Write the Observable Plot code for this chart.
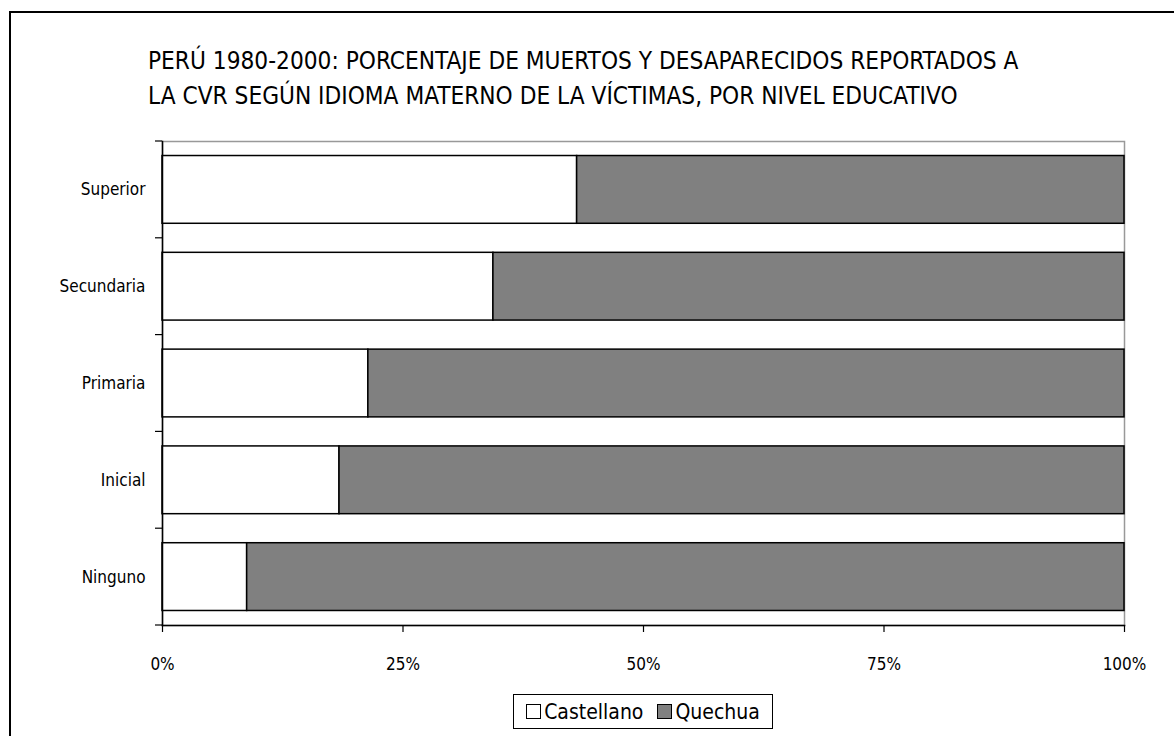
<!DOCTYPE html>
<html>
<head>
<meta charset="utf-8">
<script src="https://cdn.jsdelivr.net/npm/d3@7"></script>
<script src="https://cdn.jsdelivr.net/npm/@observablehq/plot@0.6"></script>
<style>
  html, body { margin: 0; padding: 0; background: #fff; overflow: hidden; }
  body { width: 1174px; height: 736px; position: relative; font-family: "DejaVu Sans Condensed", "DejaVu Sans", sans-serif; font-stretch: condensed; color: #000; }
  #frame { position: absolute; left: 9px; top: 11px; width: 1300px; height: 900px; border: 2px solid #000; box-sizing: border-box; }
  #title { position: absolute; left: 148px; top: 44px; font-size: 24.2px; line-height: 35px; white-space: nowrap; }
  #chart { position: absolute; left: 0; top: 109px; }
  #legend { position: absolute; left: 513px; top: 694px; width: 260px; height: 35px; box-sizing: border-box; border: 1px solid #000; display: flex; align-items: center; justify-content: center; font-size: 21px; }
  .sw { display: inline-block; width: 15px; height: 15px; border: 1px solid #000; box-sizing: border-box; margin-right: 3px; }
  .item { display: flex; align-items: center; margin: 0 7px; }
</style>
</head>
<body>
<div id="frame"></div>
<div id="title">PERÚ 1980-2000: PORCENTAJE DE MUERTOS Y DESAPARECIDOS REPORTADOS A<br>LA CVR SEGÚN IDIOMA MATERNO DE LA VÍCTIMAS, POR NIVEL EDUCATIVO</div>
<div id="chart"></div>
<div id="legend"></div>
<script>
const categories = ["Superior", "Secundaria", "Primaria", "Inicial", "Ninguno"];
const castellano = [43.1, 34.4, 21.4, 18.4, 8.8];
const quechua = [56.9, 65.6, 78.6, 81.6, 91.2];
const series = ["Castellano", "Quechua"];
const seriesColors = ["#ffffff", "#808080"];
const xTicks = [0, 25, 50, 75, 100];

const data = categories.flatMap((c, i) => [
  {cat: c, idioma: series[0], v: castellano[i]},
  {cat: c, idioma: series[1], v: quechua[i]}
]);

function boundaryTicks(index, scales) {
  const y = scales.y;
  const x = scales.x;
  const g = d3.create("svg:g");
  const y0 = y(categories[0]);
  const step = y(categories[1]) - y0;
  const bw = y.bandwidth ? y.bandwidth() : step * 0.7;
  const half = (step - bw) / 2;
  const x0 = x(0);
  const bounds = categories.map(c => y(c) - half);
  bounds.push(y(categories[categories.length - 1]) + bw + half);
  for (const b of bounds) {
    g.append("line").attr("x1", x0 - 7).attr("x2", x0).attr("y1", b).attr("y2", b)
      .attr("stroke", "#000").attr("stroke-width", 1.2);
  }
  return g.node();
}

const chart = Plot.plot({
  width: 1174,
  height: 571,
  marginLeft: 162,
  marginRight: 50,
  marginTop: 32,
  marginBottom: 55,
  style: {fontFamily: '"DejaVu Sans Condensed", "DejaVu Sans", sans-serif', fontSize: "17px", color: "#000", background: "transparent", fontStretch: "condensed"},
  x: {domain: [0, 100], label: null},
  y: {domain: categories, paddingInner: 0.3, paddingOuter: 0.15, round: false, label: null},
  color: {domain: series, range: seriesColors},
  marks: [
    Plot.frame({stroke: "#999", strokeWidth: 1.5}),
    Plot.barX(data, Plot.stackX({x: "v", y: "cat", fill: "idioma", stroke: "#000", strokeWidth: 1.5, order: series})),
    Plot.axisX({ticks: xTicks, tickFormat: d => d + "%", tickSize: 7, tickPadding: 25, strokeWidth: 1.2, label: null}),
    Plot.axisY({tickSize: 0, tickPadding: 17, label: null}),
    Plot.frame({anchor: "bottom", stroke: "#000", strokeWidth: 1.5}),
    Plot.frame({anchor: "left", stroke: "#000", strokeWidth: 1.5}),
    boundaryTicks
  ]
});
document.getElementById("chart").appendChild(chart);

const legend = document.getElementById("legend");
series.forEach((s, i) => {
  const it = document.createElement("span");
  it.className = "item";
  const sw = document.createElement("span");
  sw.className = "sw";
  sw.style.background = seriesColors[i];
  it.appendChild(sw);
  it.appendChild(document.createTextNode(s));
  legend.appendChild(it);
});
</script>
</body>
</html>
